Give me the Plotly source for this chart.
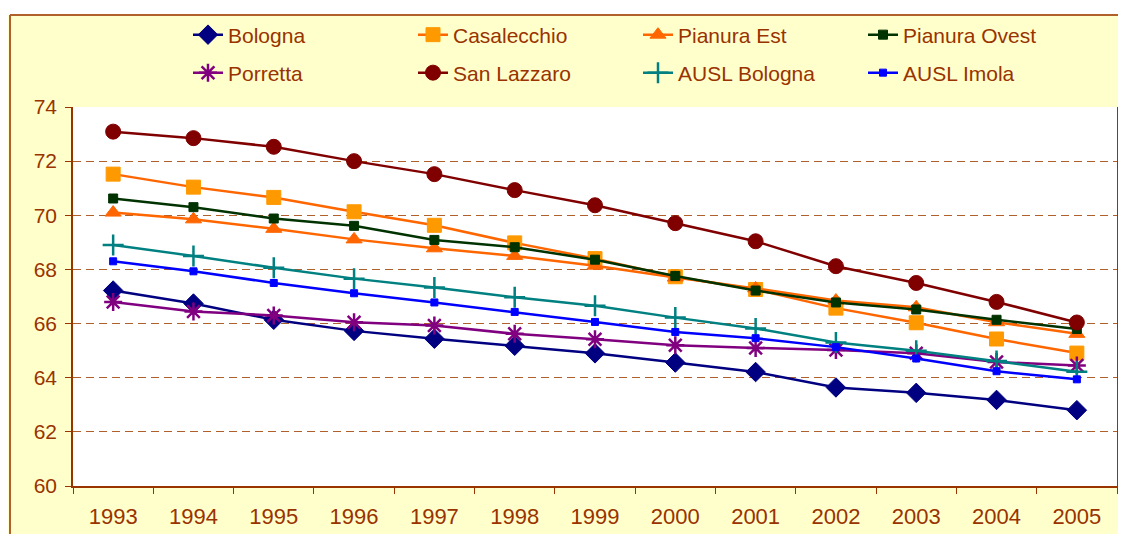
import plotly.graph_objects as go

years = ["1993", "1994", "1995", "1996", "1997", "1998", "1999",
         "2000", "2001", "2002", "2003", "2004", "2005"]

bologna = [67.22, 66.74, 66.14, 65.73, 65.44, 65.18, 64.90,
           64.56, 64.21, 63.64, 63.44, 63.18, 62.80]
casalecchio = [71.52, 71.04, 70.66, 70.13, 69.63, 68.98, 68.40,
               67.73, 67.26, 66.57, 66.03, 65.43, 64.91]
pianura_est = [70.10, 69.85, 69.50, 69.11, 68.78, 68.50, 68.14,
               67.70, 67.30, 66.85, 66.60, 66.05, 65.62]
pianura_ovest = [70.62, 70.30, 69.88, 69.61, 69.09, 68.82, 68.36,
                 67.76, 67.22, 66.78, 66.52, 66.14, 65.80]
porretta = [66.80, 66.45, 66.30, 66.05, 65.93, 65.62, 65.42,
            65.20, 65.10, 65.02, 64.90, 64.58, 64.45]
san_lazzaro = [73.09, 72.85, 72.53, 72.00, 71.52, 70.93, 70.37,
               69.71, 69.04, 68.12, 67.50, 66.80, 66.04]
ausl_bologna = [68.90, 68.50, 68.06, 67.66, 67.33, 66.97, 66.66,
                66.22, 65.82, 65.30, 65.00, 64.62, 64.22]
ausl_imola = [68.30, 67.93, 67.50, 67.12, 66.78, 66.43, 66.06,
              65.69, 65.46, 65.13, 64.71, 64.24, 63.94]

# name, values, line colour, marker colour, symbol, size, marker line width, legend row
series = [
    ("Bologna", bologna, "#000080", "#000080", "diamond", 15, 1, "legend"),
    ("Casalecchio", casalecchio, "#FF6600", "#FF9900", "square", 14, 1, "legend"),
    ("Pianura Est", pianura_est, "#FF6600", "#FF6600", "triangle-up", 14, 1, "legend"),
    ("Pianura Ovest", pianura_ovest, "#003300", "#003300", "square", 9, 1, "legend"),
    ("Porretta", porretta, "#800080", "#800080", "asterisk-open", 15, 2.5, "legend2"),
    ("San Lazzaro", san_lazzaro, "#800000", "#800000", "circle", 15, 1, "legend2"),
    ("AUSL Bologna", ausl_bologna, "#008080", "#008080", "cross-thin-open", 15, 2.5, "legend2"),
    ("AUSL Imola", ausl_imola, "#0000FF", "#0000FF", "square", 7, 1, "legend2"),
]

brown = "#993300"
font = "Liberation Sans, Arial, sans-serif"

# plot area in figure pixels (the page adds an 8px body margin around the figure)
L, T, W, H = 65, 99, 1044, 379
FIG_W, FIG_H = 1126, 534

fig = go.Figure()
for name, vals, lcol, mcol, sym, size, mlw, leg in series:
    fig.add_trace(go.Scatter(
        x=years, y=vals, name=name, mode="lines+markers", legend=leg,
        line=dict(color=lcol, width=2.5),
        marker=dict(symbol=sym, size=size, color=mcol,
                    line=dict(color=mcol, width=mlw)),
    ))

legend_common = dict(orientation="h", x=(180 - L) / W, xanchor="left",
                     yanchor="middle", entrywidth=180,
                     bgcolor="rgba(0,0,0,0)",
                     font=dict(size=21, color=brown))

frame_y = 1 + (T - 7) / H
frame_x = -(L - 2) / W

fig.update_layout(
    width=FIG_W, height=FIG_H,
    paper_bgcolor="#FFFFCC", plot_bgcolor="white",
    margin=dict(l=L, r=FIG_W - L - W, t=T, b=FIG_H - T - H, autoexpand=False),
    font=dict(family=font, size=20, color=brown),
    showlegend=True,
    legend=dict(legend_common, y=1 + (T - 27) / H),
    legend2=dict(legend_common, y=1 + (T - 65) / H),
    # white strip above the frame and the frame lines
    shapes=[
        dict(type="rect", xref="paper", yref="paper", layer="above",
             x0=-0.2, x1=1.2, y0=frame_y, y1=1.5,
             fillcolor="white", line_width=0),
        dict(type="line", xref="paper", yref="paper", layer="above",
             x0=frame_x, x1=1.2, y0=frame_y, y1=frame_y,
             line=dict(color="#B0602A", width=2)),
        dict(type="line", xref="paper", yref="paper", layer="above",
             x0=frame_x, x1=frame_x, y0=-0.3, y1=frame_y,
             line=dict(color="#B0602A", width=2)),
    ],
)

fig.update_xaxes(
    type="category", range=[-0.5, len(years) - 0.5], showgrid=False,
    showline=True, linecolor=brown, linewidth=1.5, ticks="outside",
    tickson="boundaries", ticklen=6, tickcolor=brown, ticklabelstandoff=10,
    tickfont=dict(size=22, color=brown), automargin=False,
)
fig.update_yaxes(
    range=[60, 74], dtick=2, showline=True, mirror=True, linecolor=brown,
    linewidth=1.5, ticks="outside", ticklen=6, tickcolor=brown,
    ticklabelstandoff=4, showgrid=True, gridcolor="#B0602A", gridwidth=1.2,
    griddash="8px,5px", zeroline=False, tickfont=dict(size=21, color=brown),
    automargin=False,
)

fig.write_html("out.html")
